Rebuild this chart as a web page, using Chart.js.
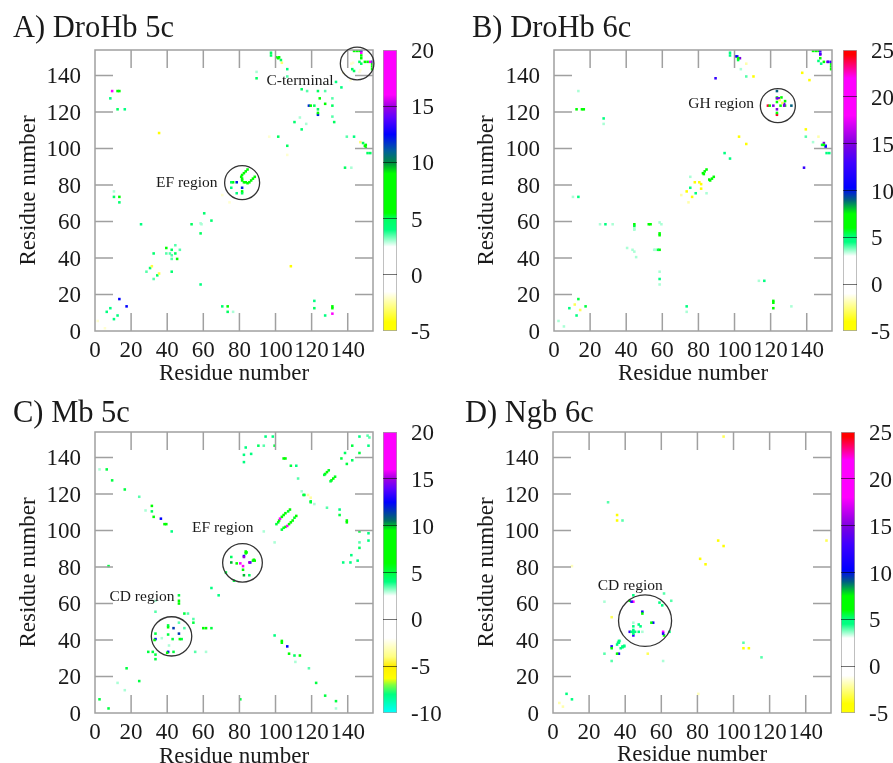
<!DOCTYPE html>
<html lang="en">
<head>
    <meta charset="UTF-8">
    <title>Residue contact maps</title>
    <script src="https://cdn.jsdelivr.net/npm/chart.js"></script>
    <style>
        html, body {
            margin: 0;
            padding: 0;
            background-color: #fff;
            overflow: hidden;
            width: 893px;
            height: 763px;
        }

        canvas {
            position: absolute;
            filter: blur(0.35px);
        }
    </style>
</head>
<body>
    <canvas id="mapA"></canvas>
    <canvas id="barA"></canvas>
    <canvas id="mapB"></canvas>
    <canvas id="barB"></canvas>
    <canvas id="mapC"></canvas>
    <canvas id="barC"></canvas>
    <canvas id="mapD"></canvas>
    <canvas id="barD"></canvas>

    <script>
        const residueTicks = [0, 20, 40, 60, 80, 100, 120, 140];
        const residueMax = 154;

        const scaleTicksA = [-5, 0, 5, 10, 15, 20];
        const scaleTicksB = [-5, 0, 5, 10, 15, 20, 25];
        const scaleTicksC = [-10, -5, 0, 5, 10, 15, 20];
        const scaleTicksD = [-5, 0, 5, 10, 15, 20, 25];

        // [residue i, residue j, value]. The maps are symmetric, so only i > j is listed
        const contactsA = [
            [5.5, 1.5, -2], [10.5, 6.5, 4], [12.5, 8.5, 4], [17.5, 13.5, 12.5],
            [73.5, 10.5, 5], [73.5, 13.5, 5.5], [70.5, 13.5, 4.5], [76.5, 10.5, 3],
            [58.5, 25.5, 4], [34.5, 30.5, 4.5], [35.5, 31.5, -3.5], [32.5, 28.5, 3.5],
            [42.5, 32.5, 4.5], [45.5, 39.5, 6], [42.5, 39.5, 3.5], [42.5, 41.5, 3.5],
            [44.5, 42.5, 5], [47, 44.5, 3.5], [58.5, 53.5, 5], [59, 58.5, 3], [64.5, 60.5, 4.5],
            [108.5, 35.5, -5], [121.5, 16.5, 4], [121.5, 12.5, 5], [131.5, 13.5, 5.5],
            [131.5, 12.5, 5.5], [131.5, 9.5, 17], [127.5, 8.5, 4],
            [81.5, 78.5, 12], [81.5, 76.5, 6], [81.5, 75.5, 5], [78.5, 75.5, 4],
            [88.5, 84.5, 6], [87.5, 83.5, 6], [86.5, 82.5, 6], [85.5, 81.5, 6],
            [84.5, 81, 6], [83.5, 81.5, 6], [82.5, 81.5, 6], [74.5, 70.5, -2],
            [138.5, 89.5, 5], [142, 89.5, 3], [139.5, 106.5, 3.5], [143.5, 106.5, 4],
            [147, 103.5, -3], [148.5, 103, 5], [149.5, 101.5, 6], [150, 102, 6], [150, 100.5, 7.5],
            [151, 97.5, 5], [152.5, 97.5, 5], [106.5, 101.5, 5], [106.5, 96.5, -2],
            [132.5, 114.5, 5], [131.5, 117.5, 3.5], [123.5, 118.5, 12], [123.5, 119.5, 7],
            [123.5, 121.5, 5], [131.5, 123.5, 5], [127.5, 124.5, 6], [131.5, 127.5, 3.5],
            [117, 113.5, 3], [114.5, 110.5, 4.5], [136.5, 133.5, 4], [141.5, 137.5, -2],
            [153.5, 143.5, 6], [153.5, 145, 6], [153.5, 146.5, 7], [153.5, 147.5, 11.5],
            [152.5, 147.5, 17], [151, 147.5, 6], [149.5, 147.5, 6], [147.5, 146.5, 5],
            [143.5, 142.5, 5], [146.5, 142, -2], [147, 143, -2]
        ];

        const contactsB = [
            [5.5, 2.5, 3.5], [12.5, 8.5, 5], [17.5, 13.5, 5.5], [14.5, 11.5, -3],
            [73.5, 13.5, 5], [73.5, 10.5, 3.5], [70.5, 13.5, 3],
            [58.5, 25.5, 3.5], [58.5, 28.5, 4.5], [58.5, 32.5, 3.5], [44.5, 32.5, 3],
            [58.5, 44.5, 6], [57.5, 44.5, 5.5], [56, 44.5, 3.5], [55.5, 44.5, 3.5],
            [58.5, 53.5, 6], [58.5, 52.5, 6], [59.5, 58.5, 3.5], [45.5, 40.5, 3.5], [44.5, 43.5, 3.5],
            [116.5, 27.5, 5], [113.5, 27.5, 3.5],
            [121.5, 16.5, 6], [121.5, 15.5, 6], [121.5, 12.5, 6.5], [123.5, 12.5, 3],
            [131.5, 13.5, 3.5], [133.5, 5.5, 3],
            [88.5, 84.5, 6], [87.5, 83.5, 6], [86.5, 82.5, 6], [86, 83, 6], [90.5, 86.5, 3],
            [97.5, 94.5, 5], [106.5, 102.5, -4], [76.5, 73.5, -5], [74.5, 70.5, -2],
            [78.5, 75.5, 4.5], [81.5, 78, -4.5], [81.5, 80.5, -5], [84.5, 75.5, 3.5],
            [152.5, 97.5, 5], [151, 97.5, 5], [149.5, 103, 15], [150.5, 101.5, 11],
            [150.5, 100.5, 11], [148.5, 102, 5.5], [149.5, 102, 6],
            [146.5, 106.5, -2], [143.5, 103.5, 3.5], [139.5, 106.5, 4], [139.5, 110.5, -4.5],
            [138.5, 89.5, 12.5], [141.5, 137.5, -4.5],
            [153.5, 143.5, 6], [153.5, 145, 6.5], [153.5, 146.5, 7], [153.5, 147.5, 13],
            [151.5, 147.5, 15], [149.5, 147.5, 6], [148, 146.5, 5], [152, 147.5, 13],
            [131.5, 123.5, 9], [123.5, 118.5, 24], [123.5, 119.5, 6], [123.5, 121.5, 15],
            [128, 123.5, 6], [127.5, 123.5, 15], [125.5, 123.5, 6], [127.5, 124.5, 14],
            [128, 126, 6], [126.5, 125, -3], [114, 109.5, 3]
        ];

        const contactsC = [
            [7.5, 2.5, 5], [24.5, 17.5, 5], [16.5, 12.5, 3], [33.5, 32, 5], [33.5, 29.5, 5],
            [43.5, 33.5, 5], [40.5, 33.5, 12.5], [40, 33, 6], [47, 40.5, 6], [46.5, 43.5, 11.5],
            [43, 40.5, 5], [48, 40.5, 5], [55.5, 33.5, 3.5], [60, 46.5, 6], [61.5, 46.5, 6],
            [64.5, 46.5, 5], [54.5, 49.5, 5], [54.5, 51.5, 3.5], [49.5, 46.5, 3.5],
            [68.5, 64.5, 4], [61.5, 33.5, 3], [41, 37, 3],
            [80.5, 7.5, 5], [99.5, 42.5, 4], [103.5, 39.5, 6], [103.5, 38.5, 6], [106.5, 36.5, 12.5],
            [107.5, 32.5, 6], [110.5, 31.5, 4.5], [113.5, 31.5, 9.5], [111, 28, 3],
            [118.5, 24.5, 3.5], [119.5, 16.5, -2], [122.5, 16.5, 5], [127.5, 9.5, 5],
            [133.5, 6.5, 5], [133.5, 2.5, 3],
            [135.5, 111.5, 4], [135.5, 108.5, 5], [139.5, 104.5, 6], [139.5, 105.5, 6],
            [146.5, 99.5, 5], [151.5, 98.5, 4], [146.5, 93.5, 3.5], [151.5, 94.5, 4],
            [146.5, 90.5, 4.5], [142, 86.5, 4], [145.5, 83.5, 4], [141.5, 82.5, 4], [137.5, 82.5, 4],
            [151.5, 146.5, 4], [152, 151, 3.5], [146.5, 142.5, 5], [139.5, 136.5, 5],
            [142.5, 138.5, 4.5], [133, 129.5, 5.5], [132, 128.5, 6], [131, 127.5, 6], [130.5, 127, 5],
            [128.5, 112.5, 3.5], [119.5, 115.5, 5], [119.5, 116, 5], [119.5, 118, -3.5], [121.5, 114.5, 3],
            [103.5, 100.5, 5], [104.5, 101.5, 5.5], [105.5, 102, 6], [106.5, 102.5, 16],
            [107.5, 103.5, 6], [108.5, 104.5, 6], [109.5, 105.5, 6], [110.5, 107, 5.5], [111.5, 108, 6],
            [99.5, 93.5, 3],
            [82.5, 75.5, 10], [85.5, 75.5, 4.5], [82, 78.5, 7], [82, 80.5, 17], [77, 72.5, 5],
            [88.5, 83.5, 6], [87.5, 83.5, 6], [86, 82.5, 13], [85.5, 82.5, 15], [88, 84, 6]
        ];

        const contactsD = [
            [10.5, 7.5, 4.5], [5.5, 3.5, -2], [115.5, 30.5, 4], [115.5, 26.5, 3],
            [105.5, 35.5, -5], [108.5, 35.5, -5], [105.5, 38.5, 4], [94.5, 91.5, -5],
            [84.5, 81.5, -4], [80.5, 10.5, -1.8], [151.5, 94.5, -3], [148.5, 103.5, 3],
            [101.5, 97.5, 2.8], [61.5, 28.5, 3], [32.5, 28.5, 4], [61, 28.5, 3.5],
            [52.5, 32.5, -3], [36.5, 32.5, 12], [35.5, 32.5, 6], [38.5, 36, 5], [37.5, 35.5, 5],
            [39.5, 37, 4], [38.5, 36.5, 5], [39.5, 36.5, 4.5],
            [61, 44.5, 20], [61.5, 42.5, 6], [61, 43.5, 12], [64.5, 44.5, 5], [55.5, 49.5, 11],
            [54.5, 49.5, 6], [65.5, 61.5, 4], [60.5, 59, 5], [44.5, 42.5, 12.5], [48.5, 47.5, 5],
            [47.5, 44.5, 5], [49.5, 44.5, 3.5], [44.5, 44.5, 5], [45.5, 44.5, 5], [44.5, 43.5, 5]
        ];

        // annotations: [text, x, y] and [x, y, radius] in residue numbers
        const notesA = [['EF region', 50.8, 81.4], ['C-terminal', 113.6, 136.8]];
        const notesB = [['GH region', 92.6, 124.5]];
        const notesC = [['EF region', 70.8, 101.4], ['CD region', 26, 63.7]];
        const notesD = [['CD region', 42.8, 69.4]];

        const circlesA = [[81.5, 81.3, 9.7], [145.2, 146.6, 9.3]];
        const circlesB = [[124, 123.5, 9.7]];
        const circlesC = [[81.7, 82.3, 11], [42.4, 42, 11.2]];
        const circlesD = [[51, 50.6, 14.7]];

        // colour scales as [value, colour] stops
        const stopsA = [
            [-5, '#ffff00'], [-4.2, '#ffff00'], [-1.5, '#ffffff'], [2.5, '#ffffff'],
            [4, '#00ff80'], [5, '#00ff60'], [5.5, '#00ff00'], [9, '#00ff00'], [10, '#008844'],
            [11, '#00609a'], [12.5, '#0000ff'], [14, '#6000ff'], [15, '#a000e0'], [16, '#ff00ff'],
            [20, '#ff00ff']
        ];
        const stopsB = [
            [-5, '#ffff00'], [-4, '#ffff00'], [-1, '#ffffff'], [3, '#ffffff'],
            [4.5, '#00ff80'], [5, '#00ff80'], [6, '#00ff00'], [7.5, '#00ff00'], [9, '#006080'],
            [10.3, '#0000ff'], [13, '#4000ff'], [15, '#8000e0'], [18, '#ff00ff'], [22, '#ff00ff'],
            [24.5, '#ff0000'], [25, '#ff0000']
        ];
        const stopsC = [
            [-10, '#00ffff'], [-8, '#00ff80'], [-7, '#80ff40'], [-6.3, '#ffff00'], [-5, '#ffee00'],
            [-4, '#ffff80'], [-2, '#ffffff'], [2.5, '#ffffff'], [4, '#00ff80'], [5, '#00ff40'],
            [6, '#00ff00'], [9.5, '#00ff00'], [10.5, '#007060'], [12.5, '#0000ff'], [14, '#6000ff'],
            [15, '#a000e0'], [16, '#ff00ff'], [20, '#ff00ff']
        ];
        const stopsD = stopsB;

        const serif = 'Liberation Serif';
        const ink = '#1a1a1a';
        const frameGray = '#a0a0a0';

        function hexToRgb(hex) {
            return [1, 3, 5].map(i => parseInt(hex.substr(i, 2), 16));
        }

        function colourAt(stops, value) {
            for (let i = 1; i < stops.length; i++) {
                if (value <= stops[i][0]) {
                    const t = (value - stops[i - 1][0]) / (stops[i][0] - stops[i - 1][0]);
                    const a = hexToRgb(stops[i - 1][1]);
                    const b = hexToRgb(stops[i][1]);
                    const c = a.map((v, k) => Math.round(v + (b[k] - v) * Math.max(t, 0)));
                    return `rgb(${c[0]}, ${c[1]}, ${c[2]})`;
                }
            }
            return stops[stops.length - 1][1];
        }

        // frame, inward ticks, circles and region labels on top of the points
        const mapDecor = {
            id: 'mapDecor',
            afterDatasetsDraw(chart, args, opts) {
                const { ctx, chartArea: area, scales: { x, y } } = chart;
                const tickLength = 18;
                ctx.save();
                ctx.strokeStyle = frameGray;
                ctx.lineWidth = 1.5;
                ctx.beginPath();
                x.ticks.forEach(t => {
                    if (t.value === 0) return;
                    const px = x.getPixelForValue(t.value);
                    ctx.moveTo(px, area.bottom);
                    ctx.lineTo(px, area.bottom - tickLength);
                    ctx.moveTo(px, area.top);
                    ctx.lineTo(px, area.top + tickLength);
                });
                y.ticks.forEach(t => {
                    if (t.value === 0) return;
                    const py = y.getPixelForValue(t.value);
                    ctx.moveTo(area.left, py);
                    ctx.lineTo(area.left + tickLength, py);
                    ctx.moveTo(area.right, py);
                    ctx.lineTo(area.right - tickLength, py);
                });
                ctx.stroke();
                ctx.strokeRect(area.left, area.top, area.right - area.left, area.bottom - area.top);

                ctx.strokeStyle = '#333';
                ctx.lineWidth = 1.3;
                opts.circles.forEach(([cx, cy, r]) => {
                    const rx = x.getPixelForValue(cx + r) - x.getPixelForValue(cx);
                    const ry = y.getPixelForValue(cy) - y.getPixelForValue(cy + r);
                    ctx.beginPath();
                    ctx.ellipse(x.getPixelForValue(cx), y.getPixelForValue(cy), rx, ry * 0.96, 0, 0, Math.PI * 2);
                    ctx.stroke();
                });

                ctx.fillStyle = ink;
                ctx.font = `15.5px "${serif}"`;
                ctx.textAlign = 'center';
                ctx.textBaseline = 'middle';
                opts.notes.forEach(([text, nx, ny]) => {
                    ctx.fillText(text, x.getPixelForValue(nx), y.getPixelForValue(ny));
                });
                ctx.restore();
            }
        };

        function drawMap(id, panel) {
            const canvas = document.getElementById(id);
            const areaSize = 281;
            const yWidth = panel.areaLeft - panel.left;
            const titleBox = panel.areaTop - panel.top;
            const xHeight = panel.xHeight;
            canvas.width = yWidth + areaSize + 1;
            canvas.height = titleBox + areaSize + xHeight;
            canvas.style.left = panel.left + 'px';
            canvas.style.top = panel.top + 'px';

            const axisFont = { family: serif, size: 23, lineHeight: 1 };
            const points = panel.contacts.concat(panel.contacts.map(([i, j, v]) => [j, i, v]));

            return new Chart(canvas, {
                type: 'scatter',
                data: {
                    datasets: [{
                        data: points.map(([i, j]) => ({ x: i, y: j })),
                        pointStyle: 'rect',
                        pointRadius: 1.8,
                        pointBorderWidth: 0,
                        pointBackgroundColor: points.map(p => colourAt(panel.stops, p[2]))
                    }]
                },
                options: {
                    responsive: false,
                    animation: false,
                    layout: { padding: { right: 1 } },
                    plugins: {
                        legend: { display: false },
                        tooltip: { enabled: false },
                        title: {
                            display: true,
                            text: panel.title,
                            align: 'start',
                            color: ink,
                            font: { family: serif, size: 30.5, weight: 'normal', lineHeight: 1 },
                            padding: { top: 0, bottom: titleBox - 30.5 }
                        },
                        mapDecor: { circles: panel.circles, notes: panel.notes }
                    },
                    scales: {
                        x: {
                            type: 'linear',
                            min: 0,
                            max: residueMax,
                            afterBuildTicks: s => { s.ticks = residueTicks.map(v => ({ value: v })); },
                            afterFit: s => { s.height = xHeight; },
                            grid: { display: false },
                            border: { display: false },
                            ticks: {
                                autoSkip: false,
                                maxRotation: 0,
                                minRotation: 0,
                                padding: 0,
                                color: ink,
                                font: axisFont
                            },
                            title: {
                                display: true,
                                text: 'Residue number',
                                color: ink,
                                font: axisFont,
                                padding: { top: 0, bottom: 0 }
                            }
                        },
                        y: {
                            type: 'linear',
                            min: 0,
                            max: residueMax,
                            afterBuildTicks: s => { s.ticks = residueTicks.map(v => ({ value: v })); },
                            afterFit: s => { s.width = yWidth; },
                            grid: { display: false },
                            border: { display: false },
                            ticks: { autoSkip: false, padding: 6, labelOffset: 1.5, color: ink, font: axisFont },
                            title: {
                                display: true,
                                text: 'Residue number',
                                color: ink,
                                font: axisFont,
                                padding: { top: panel.yTitlePad, bottom: 0 }
                            }
                        }
                    }
                },
                plugins: [mapDecor]
            });
        }

        function drawColourBar(id, panel) {
            const canvas = document.getElementById(id);
            const barWidth = 14;
            const ticks = panel.ticks;
            const low = ticks[0];
            const high = ticks[ticks.length - 1];
            canvas.width = 893 - panel.barLeft;
            canvas.height = panel.areaTop + 281 + 20;
            canvas.style.left = panel.barLeft + 'px';
            canvas.style.top = '0px';

            return new Chart(canvas, {
                type: 'bar',
                data: {
                    labels: ['scale'],
                    datasets: [{
                        data: [[low, high]],
                        barPercentage: 1,
                        categoryPercentage: 1,
                        borderColor: frameGray,
                        borderWidth: 1,
                        borderSkipped: false,
                        backgroundColor: c => {
                            const y = c.chart.scales.y;
                            if (!c.chart.chartArea) return '#fff';
                            const g = c.chart.ctx.createLinearGradient(0, y.getPixelForValue(low), 0, y.getPixelForValue(high));
                            panel.stops.forEach(([v, colour]) => g.addColorStop((v - low) / (high - low), colour));
                            return g;
                        }
                    }]
                },
                options: {
                    responsive: false,
                    animation: false,
                    layout: { padding: { top: panel.areaTop, bottom: 20 } },
                    plugins: { legend: { display: false }, tooltip: { enabled: false } },
                    scales: {
                        x: { display: false },
                        y: {
                            position: 'right',
                            min: low,
                            max: high,
                            afterBuildTicks: s => { s.ticks = ticks.map(v => ({ value: v })); },
                            // labels overhang into the padding, so no extra inset is wanted
                            afterFit: s => {
                                s.width = canvas.width - barWidth;
                                s.paddingTop = 0;
                                s.paddingBottom = 0;
                            },
                            border: { display: false },
                            grid: {
                                z: 1,
                                drawTicks: false,
                                color: c => (c.tick.value === low || c.tick.value === high) ? 'transparent' : 'rgba(0, 0, 0, 0.55)'
                            },
                            ticks: { padding: 14, labelOffset: 2, color: ink, font: { family: serif, size: 23 } }
                        }
                    }
                }
            });
        }

        const panels = [
            { map: 'mapA', bar: 'barA', title: 'A) DroHb 5c', contacts: contactsA, notes: notesA, circles: circlesA, stops: stopsA, ticks: scaleTicksA,
              left: 13, top: 14, areaLeft: 95, areaTop: 50, xHeight: 54, yTitlePad: 4, barLeft: 383 },
            { map: 'mapB', bar: 'barB', title: 'B) DroHb 6c', contacts: contactsB, notes: notesB, circles: circlesB, stops: stopsB, ticks: scaleTicksB,
              left: 472, top: 14, areaLeft: 554, areaTop: 50, xHeight: 54, yTitlePad: 3, barLeft: 843 },
            { map: 'mapC', bar: 'barC', title: 'C) Mb 5c', contacts: contactsC, notes: notesC, circles: circlesC, stops: stopsC, ticks: scaleTicksC,
              left: 13, top: 399, areaLeft: 95, areaTop: 432, xHeight: 55, yTitlePad: 4, barLeft: 383 },
            { map: 'mapD', bar: 'barD', title: 'D) Ngb 6c', contacts: contactsD, notes: notesD, circles: circlesD, stops: stopsD, ticks: scaleTicksD,
              left: 465, top: 399, areaLeft: 553, areaTop: 432, xHeight: 53, yTitlePad: 10, barLeft: 841 }
        ];

        panels.forEach(p => {
            drawMap(p.map, p);
            drawColourBar(p.bar, p);
        });
    </script>
</body>
</html>
